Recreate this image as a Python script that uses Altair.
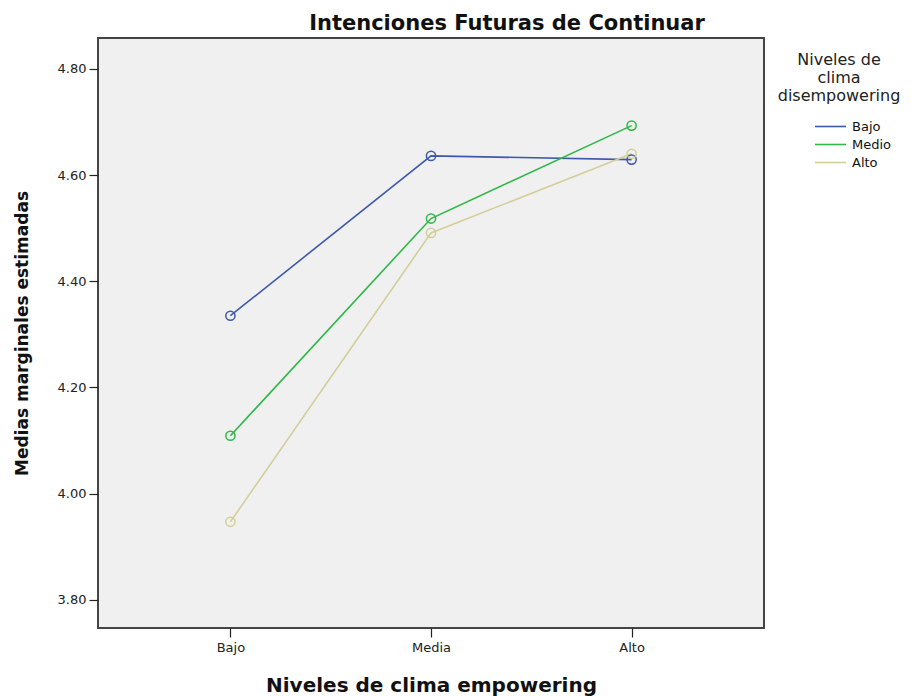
import altair as alt
import pandas as pd

x_levels = ["Bajo", "Media", "Alto"]
series = ["Bajo", "Medio", "Alto"]
bajo_vals = [4.335, 4.636, 4.629]
medio_vals = [4.109, 4.518, 4.693]
alto_vals = [3.947, 4.491, 4.640]
colors = ["#3E58AC", "#2EB848", "#D3CE97"]
y_ticks = [3.8, 4.0, 4.2, 4.4, 4.6, 4.8]

rows = []
for s, vals in zip(series, [bajo_vals, medio_vals, alto_vals]):
    for xl, v in zip(x_levels, vals):
        rows.append({"empowering": xl, "serie": s, "media": v})
df = pd.DataFrame(rows)

FONT = "DejaVu Sans"

x_enc = alt.X(
    "empowering:N",
    sort=x_levels,
    scale=alt.Scale(type="point", padding=0.66),
    axis=alt.Axis(
        title="Niveles de clima empowering",
        titleFont=FONT, titleFontSize=20, titleFontWeight="bold", titleColor="#111",
        titlePadding=21,
        labelFont=FONT, labelFontSize=13, labelColor="#222", labelPadding=4,
        labelAngle=0,
        tickSize=9, tickColor="#222", tickWidth=1.2, domain=False, grid=False,
    ),
)
y_enc = alt.Y(
    "media:Q",
    scale=alt.Scale(domain=[3.747, 4.858], nice=False, zero=False),
    axis=alt.Axis(
        title="Medias marginales estimadas",
        titleFont=FONT, titleFontSize=17, titleFontWeight="bold", titleColor="#111",
        titlePadding=26,
        values=y_ticks, format=".2f",
        labelFont=FONT, labelFontSize=13, labelColor="#222", labelPadding=3,
        tickSize=9, tickColor="#222", tickWidth=1.2, domain=False, grid=False,
    ),
)
color_scale = alt.Scale(domain=series, range=colors)

lines = alt.Chart(df).mark_line(strokeWidth=1.6).encode(
    x=x_enc,
    y=y_enc,
    color=alt.Color(
        "serie:N",
        scale=color_scale,
        sort=series,
        legend=alt.Legend(
            title=["Niveles de", "clima", "disempowering"],
            titleFont=FONT, titleFontSize=16, titleFontWeight="normal", titleColor="#222",
            titleLineHeight=18, titleAnchor="middle", titleAlign="center", titlePadding=12,
            labelFont=FONT, labelFontSize=13, labelColor="#111",
            symbolType="M-1.63,0H1.63", symbolSize=361, symbolStrokeWidth=1.6,
            symbolOffset=33, labelOffset=11, rowPadding=0,
            orient="none", legendX=680, legendY=14,
        ),
    ),
    detail="serie:N",
)

points = alt.Chart(df).mark_point(filled=False, size=85, strokeWidth=1.5, opacity=1).encode(
    x=alt.X("empowering:N", sort=x_levels),
    y="media:Q",
    color=alt.Color("serie:N", scale=color_scale, sort=series, legend=None),
)

chart = alt.layer(lines, points).properties(
    width=666,
    height=590,
    background="white",
    title=alt.TitleParams(
        "Intenciones Futuras de Continuar",
        font=FONT, fontSize=21, fontWeight="bold", color="#111",
        anchor="middle", dx=76, offset=4,
    ),
    autosize=alt.AutoSizeParams(type="none"),
    padding={"left": 90, "top": 30, "right": 150, "bottom": 72},
).configure_view(
    fill="#f0f0f0", stroke="#444", strokeWidth=2
)

chart.save("out.html", embed_options={"renderer": "svg", "actions": False})
